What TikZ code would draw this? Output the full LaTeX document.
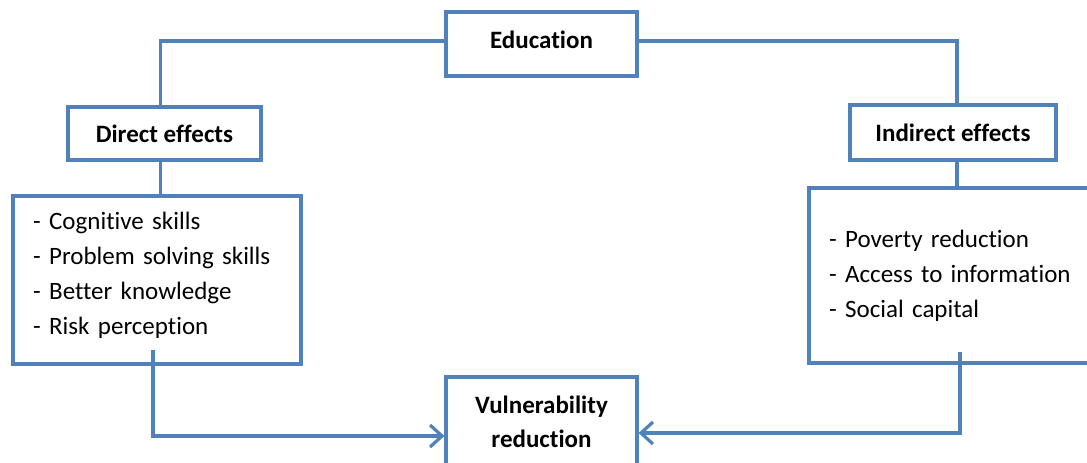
\documentclass[tikz,border=0pt]{standalone}
\usepackage{fontspec}
\setmainfont{Carlito}[Ligatures=NoCommon]
\usetikzlibrary{arrows.meta}
\definecolor{boxblue}{RGB}{79,129,189}
\begin{document}
\begin{tikzpicture}[x=1pt,y=-1pt,
  box/.style={draw=boxblue,line width=3.2pt,fill=white,inner sep=0pt},
  titlebox/.style={box,font=\fontsize{25}{34}\selectfont\bfseries,align=center},
  listbox/.style={box,font=\fontsize{25}{35}\selectfont,align=left,inner xsep=20pt,inner ysep=0pt},
  conn/.style={draw=boxblue,line width=3.2pt},
  arr/.style={conn,-{Straight Barb[length=12pt,width=22pt]}}]
\clip (0,0) rectangle (1087,463);
\fill[white] (0,0) rectangle (1087,463);
\node[titlebox,minimum width=191pt,minimum height=64pt,text depth=8pt] (edu) at (541.5,44) {Education};
\node[titlebox,minimum width=193pt,minimum height=53pt] (direct) at (164.5,133.5) {Direct effects};
\node[titlebox,minimum width=206pt,minimum height=55pt] (indirect) at (953,132.5) {Indirect effects};
\node[listbox,text width=248pt,minimum height=168pt,text depth=118pt] (lbox) at (157,280)
  {-\hspace{8.5pt}Cognitive skills\\
   -\hspace{8.5pt}Problem solving skills\\
   -\hspace{8.5pt}Better knowledge\\
   -\hspace{8.5pt}Risk perception};
\node[listbox,text width=270pt,minimum height=175pt] (rbox) at (964,275.5)
  {-\hspace{8.5pt}Poverty reduction\\
   -\hspace{8.5pt}Access to information\\
   -\hspace{8.5pt}Social capital};
\node[titlebox,minimum width=191pt,minimum height=90pt] (vul) at (541.5,422) {Vulnerability\\reduction};
\coordinate (a1) at (153,350);
\coordinate (a2) at (960,352);
\draw[conn] ([yshift=3pt]edu.west) -| ([xshift=-4pt]direct.north);
\draw[conn] ([xshift=-4pt]direct.south) -- ([xshift=-4pt]direct.south |- lbox.north);
\draw[conn] ([yshift=3pt]edu.east) -| ([xshift=4pt]indirect.north);
\draw[conn] ([xshift=4pt]indirect.south) -- ([xshift=4pt]indirect.south |- rbox.north);
\draw[arr] (a1) |- ([yshift=-14pt]vul.west);
\draw[arr] (a2) |- ([yshift=-11pt]vul.east);
\end{tikzpicture}
\end{document}
